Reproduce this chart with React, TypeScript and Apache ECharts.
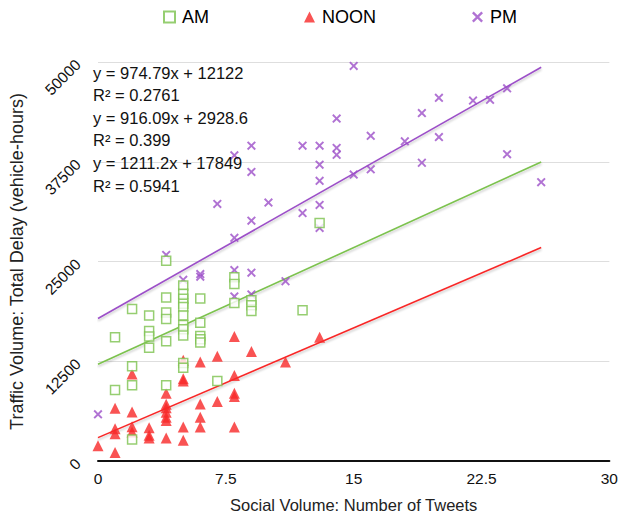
import React, { useEffect, useRef } from "react";
import * as echarts from "echarts";

const seriesNames = ["AM", "NOON", "PM"];
const seriesColors = ["#7cc24e", "#f82828", "#9c4fc8"];

const amPoints = [
  [1, 15510], [1, 8911],
  [2, 19059], [2, 11881], [2, 9490], [2, 2700],
  [3, 18234], [3, 16295], [3, 15594], [3, 14190],
  [4, 25084], [4, 20503], [4, 18600], [4, 17800], [4, 15016], [4, 9490],
  [5, 22000], [5, 20956], [5, 20337], [5, 19719], [5, 19307], [5, 18234], [5, 17038], [5, 16501], [5, 15718], [5, 12292], [5, 11673],
  [6, 20379], [6, 17326], [6, 15676], [6, 15263], [6, 14851],
  [7, 10024],
  [8, 23020], [8, 22194], [8, 19802],
  [9, 20131], [9, 19513], [9, 18812],
  [12, 18894],
  [13, 29826],
];

const noonPoints = [
  [0, 1896],
  [1, 6600], [1, 4043], [1, 3424], [1, 1073],
  [2, 10891], [2, 6150], [2, 4300], [2, 3630],
  [3, 4166], [3, 3218], [3, 2888],
  [4, 8498], [4, 7096], [4, 6683], [4, 6105], [4, 5486], [4, 5074], [4, 2888],
  [5, 12624], [5, 10300], [5, 10024], [5, 4249], [5, 2599],
  [6, 12417], [6, 7141], [6, 5486], [6, 4249],
  [7, 13119], [7, 7462],
  [8, 15594], [8, 10727], [8, 8498], [8, 8085], [8, 4249],
  [9, 13737],
  [11, 12417],
  [13, 15510],
];

const pmPoints = [
  [0, 5854], [4, 25824], [5, 22700], [6, 23428], [6, 23102], [7, 32216],
  [8, 38300], [8, 27970], [8, 23928], [8, 20626],
  [9, 39517], [9, 36225], [9, 30112], [9, 23597], [9, 20874],
  [10, 32384], [11, 22524],
  [12, 39517], [12, 31064],
  [13, 39517], [13, 37128], [13, 35110], [13, 32093], [13, 29207],
  [14, 42907], [14, 39232], [14, 38366],
  [15, 49504], [15, 35890],
  [16, 40755], [16, 36547],
  [18, 40061],
  [19, 43601], [19, 37375],
  [20, 45506], [20, 40593],
  [22, 45172], [23, 45258],
  [24, 46695], [24, 38452],
  [26, 34938],
];

// trendline coefficients (AM, NOON, PM) as printed on the chart
const trendSlopes = [974.79, 916.09, 1211.2];
const trendIntercepts = [12122, 2928.6, 17849];
const trendXRange = [0, 26];

const equationLines = [
  "y = 974.79x + 12122",
  "R² = 0.2761",
  "y = 916.09x + 2928.6",
  "R² = 0.399",
  "y = 1211.2x + 17849",
  "R² = 0.5941",
];

const xTicks = { min: 0, max: 30, interval: 7.5 };
const yTicks = { min: 0, max: 50000, interval: 12500 };

const FONT = "'Liberation Sans', Arial, Helvetica, sans-serif";
const X_PATH =
  "path://M1.5,0 L5,3.5 L8.5,0 L10,1.5 L6.5,5 L10,8.5 L8.5,10 L5,6.5 L1.5,10 L0,8.5 L3.5,5 L0,1.5 Z";

export default function App() {
  const ref = useRef<HTMLDivElement>(null);

  useEffect(() => {
    if (!ref.current) return;
    const chart = echarts.init(ref.current, null, { renderer: "svg" });

    const pointSets = [amPoints, noonPoints, pmPoints];
    const symbols = ["rect", "triangle", X_PATH];
    const symbolSizes = [9, 11, 9];
    const zs = [5, 3, 4];

    const scatterSeries = seriesNames.map((name, i) => ({
      name,
      type: "scatter",
      data: pointSets[i],
      symbol: symbols[i],
      symbolSize: symbolSizes[i],
      z: zs[i],
      itemStyle:
        i === 0
          ? { color: "#ffffff", borderColor: seriesColors[0], borderWidth: 1.5 }
          : { color: seriesColors[i] },
    }));

    const trendSeries = seriesNames.map((name, i) => ({
      name: name + " trend",
      type: "line",
      data: trendXRange.map((x) => [x, trendSlopes[i] * x + trendIntercepts[i]]),
      showSymbol: false,
      symbol: "none",
      silent: true,
      z: 2,
      lineStyle: {
        color: seriesColors[i],
        width: 1.6,
        shadowColor: "rgba(0,0,0,0.22)",
        shadowBlur: 2,
        shadowOffsetY: 2,
      },
    }));

    const legendLefts = [158, 299, 467];

    chart.setOption({
      animation: false,
      backgroundColor: "#ffffff",
      textStyle: { fontFamily: FONT },
      legend: seriesNames.map((name, i) => ({
        data: [name],
        left: legendLefts[i],
        top: 3,
        itemWidth: 11,
        itemHeight: 11,
        selectedMode: false,
        textStyle: { fontSize: 18, color: "#000", fontFamily: FONT, padding: [0, 0, 0, 2] },
      })),
      grid: { left: 92, right: 9, top: 62, bottom: 52, containLabel: false },
      xAxis: {
        type: "value",
        min: xTicks.min,
        max: xTicks.max,
        interval: xTicks.interval,
        name: "Social Volume: Number of Tweets",
        nameLocation: "middle",
        nameGap: 35,
        nameTextStyle: { fontSize: 16.5, color: "#222", fontFamily: FONT },
        axisLine: { show: true, lineStyle: { color: "#111", width: 2 } },
        axisTick: { show: false },
        splitLine: { show: false },
        axisLabel: { fontSize: 15.5, color: "#111", margin: 9, fontFamily: FONT },
      },
      yAxis: {
        type: "value",
        min: yTicks.min,
        max: yTicks.max,
        interval: yTicks.interval,
        name: "Traffic Volume: Total Delay (vehicle-hours)",
        nameLocation: "middle",
        nameGap: 72,
        nameTextStyle: { fontSize: 18, color: "#222", fontFamily: FONT },
        axisLine: { show: false },
        axisTick: { show: false },
        splitLine: { show: true, lineStyle: { color: "#dedede", width: 1 } },
        axisLabel: {
          fontSize: 15.5,
          color: "#111",
          rotate: 45,
          margin: 20,
          fontFamily: FONT,
          formatter: (v: number) => String(v),
        },
      },
      graphic: equationLines.map((text, i) => ({
        type: "text",
        left: 93,
        top: 64 + i * 22.6,
        z: 100,
        style: { text, fontSize: 16.5, fontFamily: FONT, fill: "#111" },
      })),
      series: [...trendSeries, ...scatterSeries],
    });

    return () => chart.dispose();
  }, []);

  return (
    <div
      ref={ref}
      style={{ position: "absolute", left: 0, top: 0, width: 621, height: 518 }}
    />
  );
}
